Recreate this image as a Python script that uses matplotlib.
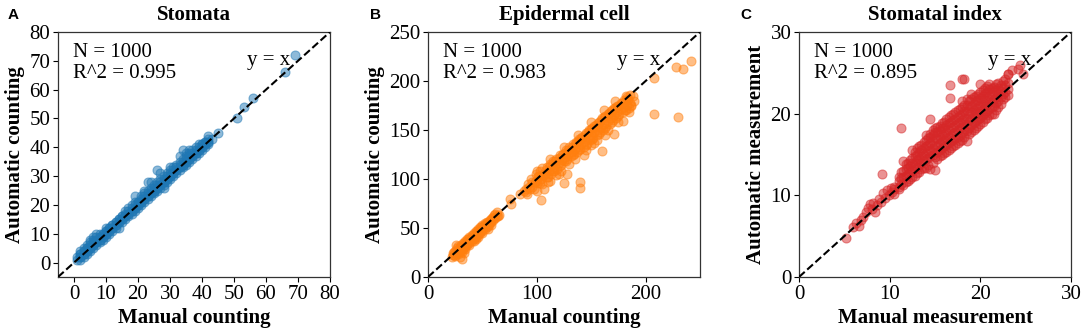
import matplotlib
matplotlib.use("Agg")
import matplotlib.pyplot as plt

plt.rcParams['font.family'] = ['Liberation Serif', 'DejaVu Serif']

# ---------------- Data ----------------
titles = ["Stomata", "Epidermal cell", "Stomatal index"]
xlabels = ["Manual counting", "Manual counting", "Manual measurement"]
ylabels = ["Automatic counting", "Automatic counting", "Automatic measurement"]
panel_letters = ["A", "B", "C"]
n_texts = ["N = 1000", "N = 1000", "N = 1000"]
r2_texts = ["R^2 = 0.995", "R^2 = 0.983", "R^2 = 0.895"]
limits = [(-5, 80), (0, 250), (0, 30)]
yticks_list = [[0, 10, 20, 30, 40, 50, 60, 70, 80], [0, 50, 100, 150, 200, 250], [0, 10, 20, 30]]
xticks_list = [[0, 10, 20, 30, 40, 50, 60, 70, 80], [0, 100, 200], [0, 10, 20, 30]]
colors = ["#1f77b4", "#ff7f0e", "#d62728"]

# Panel A: stomata (manual, automatic)
stomata_manual = [
    1, 1, 2, 2, 2, 2, 3, 3, 3, 3, 4, 4, 4, 4, 5, 5, 5, 5, 6, 6, 6, 6, 7, 7, 7, 7,
    8, 8, 8, 8, 9, 9, 9, 10, 10, 10, 10, 11, 11, 11, 12, 12, 12, 13, 13, 13,
    14, 14, 14, 15, 15, 15, 16, 16, 16, 17, 17, 17, 18, 18, 18, 19, 19, 19, 19,
    20, 20, 20, 21, 21, 21, 22, 22, 22, 22, 23, 23, 23, 23, 24, 24, 24, 24,
    25, 25, 25, 26, 26, 26, 26, 27, 27, 27, 27, 28, 28, 28, 28, 29, 29, 29,
    30, 30, 30, 30, 31, 31, 31, 32, 32, 32, 33, 33, 33, 33, 34, 34, 34, 34,
    35, 35, 35, 35, 36, 36, 36, 36, 37, 37, 37, 38, 38, 38, 39, 39, 39,
    40, 40, 40, 41, 41, 41, 42, 42, 42, 43, 45, 51, 53, 56, 66, 69,
    2, 2, 3, 3, 4, 4, 5, 5, 6, 6, 7, 7, 8, 8, 9, 9, 10, 10, 11, 11, 12, 12,
    13, 13, 14, 14, 15, 15, 16, 16, 17, 17, 18, 18, 19, 19, 20, 20, 21, 21,
    22, 22, 23, 23, 24, 24, 25, 25, 26, 26, 27, 27, 28, 28, 29, 29, 30, 30,
    31, 31, 32, 32, 33, 33, 34, 34, 35, 35, 36, 36, 37, 37, 38, 38, 39, 39,
    40, 40, 41, 41, 42, 42]
stomata_auto = [
    1, 2, 1, 2, 3, 4, 2, 3, 4, 5, 3, 4, 5, 6, 4, 5, 7, 8, 5, 6, 8, 9, 6, 7, 9, 10,
    7, 8, 10, 9, 8, 9, 10, 9, 10, 11, 12, 10, 11, 12, 11, 12, 13, 12, 13, 14,
    12, 14, 15, 14, 15, 16, 15, 16, 18, 16, 17, 19, 17, 18, 20, 18, 19, 23, 21,
    19, 20, 21, 20, 21, 23, 21, 22, 24, 25, 22, 23, 25, 28, 23, 24, 26, 28,
    24, 25, 27, 25, 26, 28, 32, 26, 27, 29, 31, 27, 28, 30, 26, 28, 29, 31,
    29, 30, 32, 33, 30, 31, 33, 31, 32, 34, 32, 33, 35, 37, 33, 34, 36, 39,
    34, 35, 37, 38, 35, 36, 38, 39, 36, 37, 39, 37, 38, 40, 38, 39, 41,
    39, 40, 41, 40, 41, 42, 41, 42, 44, 43, 45, 50, 54, 57, 66, 72,
    2, 3, 3, 4, 4, 5, 5, 6, 6, 7, 7, 8, 8, 9, 9, 10, 10, 11, 11, 12, 12, 13,
    13, 14, 14, 15, 15, 16, 16, 17, 17, 18, 18, 19, 19, 20, 20, 21, 21, 22,
    22, 23, 23, 24, 24, 25, 25, 26, 26, 27, 27, 28, 28, 29, 29, 30, 30, 31,
    31, 32, 32, 33, 33, 34, 34, 35, 35, 36, 36, 37, 37, 38, 38, 39, 39, 40,
    40, 41, 41, 42, 42, 43]

# Panel B: epidermal cells (manual, automatic)
epidermal_manual = [
    22, 23, 24, 25, 25, 26, 27, 27, 28, 28, 29, 30, 30, 31, 31, 32, 32, 33, 34, 34,
    35, 36, 36, 37, 38, 38, 39, 40, 40, 41, 42, 42, 43, 44, 44, 45, 46, 46, 47, 48,
    48, 49, 50, 50, 51, 52, 52, 53, 54, 54, 55, 56, 57, 58, 59, 60, 61, 62, 63, 64,
    29, 33, 26, 44, 55, 75, 76,
    23, 24, 26, 27, 29, 30, 32, 33, 35, 36, 37, 39, 40, 41, 43, 44, 45, 47, 48, 49,
    51, 52, 53, 55, 56, 57, 58, 60, 61, 62, 31, 28, 34, 38, 42, 46, 50, 58, 63, 65,
    85, 88, 90, 92, 94, 95, 96, 98, 99, 100, 101, 102, 103, 104, 105, 105, 106, 107,
    108, 109, 110, 111, 112, 113, 114, 115, 116, 117, 118, 119, 120, 121, 122, 123,
    124, 125, 126, 127, 128, 129, 130, 131, 132, 133, 134, 135, 136, 137, 138, 139,
    140, 141, 142, 143, 144, 145, 146, 147, 148, 149, 150, 151, 152, 153, 154, 155,
    156, 157, 158, 159, 160, 161, 162, 163, 164, 165, 166, 167, 168, 169, 170, 171,
    172, 173, 174, 175, 176, 177, 178, 179, 180, 181, 182, 183, 184, 185, 186, 187,
    188, 189, 118, 122, 135, 145, 150, 155, 165, 112, 100,
    90, 93, 96, 99, 102, 105, 108, 111, 114, 117, 120, 123, 126, 129, 132, 135,
    138, 141, 144, 147, 150, 153, 156, 159, 162, 165, 168, 171, 174, 177, 180, 183, 186,
    91, 97, 103, 109, 115, 121, 127, 133, 139, 145, 151, 157, 163, 169, 175, 181, 187,
    110, 120, 130, 143, 153, 163, 175, 185, 100, 112, 125, 138, 150, 162, 172, 182,
    104, 140, 140, 125, 128, 160, 171, 179, 208, 208, 228, 234, 242, 230]
epidermal_auto = [
    20, 24, 22, 27, 21, 25, 30, 24, 26, 32, 28, 27, 33, 30, 18, 29, 35, 32, 31, 37,
    34, 33, 39, 36, 35, 41, 38, 37, 43, 40, 39, 45, 42, 41, 47, 44, 43, 49, 46, 45,
    51, 48, 47, 53, 50, 49, 55, 52, 51, 56, 54, 53, 58, 56, 60, 58, 63, 60, 66, 62,
    20, 25, 33, 39, 49, 80, 74,
    22, 26, 23, 28, 31, 29, 31, 35, 36, 35, 39, 40, 39, 43, 44, 43, 47, 48, 47, 51,
    52, 51, 54, 56, 55, 56, 59, 61, 60, 64, 26, 23, 29, 33, 37, 41, 45, 53, 62, 63,
    85, 88, 87, 95, 90, 100, 92, 97, 105, 96, 103, 98, 108, 100, 95, 111, 104, 90,
    106, 112, 102, 108, 115, 105, 110, 118, 108, 114, 120, 110, 116, 124, 114, 119,
    126, 118, 122, 130, 120, 126, 133, 123, 128, 136, 126, 131, 138, 128, 133, 141,
    131, 136, 143, 133, 139, 147, 136, 142, 150, 140, 145, 152, 142, 148, 155, 145,
    150, 158, 148, 153, 162, 150, 156, 164, 154, 159, 167, 156, 162, 170, 160, 165,
    172, 162, 168, 175, 166, 171, 178, 168, 173, 180, 170, 176, 182, 172, 178, 175,
    185, 180, 104, 108, 120, 130, 135, 140, 150, 98, 88,
    90, 92, 97, 98, 103, 104, 109, 112, 115, 118, 121, 124, 127, 130, 133, 136,
    139, 142, 145, 148, 151, 154, 157, 160, 163, 166, 169, 172, 175, 178, 181, 184, 186,
    85, 90, 96, 102, 108, 113, 118, 124, 130, 135, 141, 146, 152, 158, 164, 170, 176,
    97, 105, 115, 125, 137, 145, 158, 168, 108, 120, 133, 145, 158, 170, 180, 185,
    79, 91, 97, 96, 105, 129, 146, 159, 203, 166, 214, 212, 220, 163]

# Panel C: stomatal index (manual, automatic)
index_manual = [
    5.2, 6.0, 6.3, 6.6, 6.8, 7.1, 7.4, 7.6, 7.8, 8.0, 8.2, 8.4, 8.6, 8.8, 9.0, 9.1,
    9.3, 9.5, 9.7, 9.9, 10.1, 10.3, 10.5, 10.5, 10.5,
    11.0, 11.0, 11.0, 11.5, 11.5, 11.5, 11.5, 12.0, 12.0, 12.0, 12.0,
    12.5, 12.5, 12.5, 12.5, 12.5, 13.0, 13.0, 13.0, 13.0, 13.0,
    13.5, 13.5, 13.5, 13.5, 13.5, 14.0, 14.0, 14.0, 14.0, 14.0, 14.0,
    14.5, 14.5, 14.5, 14.5, 14.5, 14.5, 15.0, 15.0, 15.0, 15.0, 15.0, 15.0, 15.0,
    15.5, 15.5, 15.5, 15.5, 15.5, 15.5, 16.0, 16.0, 16.0, 16.0, 16.0, 16.0,
    16.5, 16.5, 16.5, 16.5, 16.5, 16.5, 17.0, 17.0, 17.0, 17.0, 17.0, 17.0,
    17.5, 17.5, 17.5, 17.5, 17.5, 17.5, 18.0, 18.0, 18.0, 18.0, 18.0, 18.0, 18.0,
    18.5, 18.5, 18.5, 18.5, 18.5, 18.5, 18.5, 19.0, 19.0, 19.0, 19.0, 19.0, 19.0, 19.0,
    19.5, 19.5, 19.5, 19.5, 19.5, 19.5, 20.0, 20.0, 20.0, 20.0, 20.0, 20.0, 20.0,
    20.5, 20.5, 20.5, 20.5, 20.5, 20.5, 21.0, 21.0, 21.0, 21.0, 21.0, 21.0,
    21.5, 21.5, 21.5, 21.5, 21.5, 22.0, 22.0, 22.0, 22.0, 22.0,
    22.5, 22.5, 22.5, 22.5, 23.0, 23.0, 23.0, 23.0,
    11.25, 11.25, 11.25, 11.75, 11.75, 11.75, 11.75, 12.25, 12.25, 12.25, 12.25,
    12.75, 12.75, 12.75, 12.75, 12.75, 13.25, 13.25, 13.25, 13.25, 13.25,
    13.75, 13.75, 13.75, 13.75, 13.75, 14.25, 14.25, 14.25, 14.25, 14.25,
    14.75, 14.75, 14.75, 14.75, 14.75, 14.75, 15.25, 15.25, 15.25, 15.25, 15.25, 15.25,
    15.75, 15.75, 15.75, 15.75, 15.75, 15.75, 16.25, 16.25, 16.25, 16.25, 16.25, 16.25,
    16.75, 16.75, 16.75, 16.75, 16.75, 16.75, 17.25, 17.25, 17.25, 17.25, 17.25, 17.25,
    17.75, 17.75, 17.75, 17.75, 17.75, 17.75, 18.25, 18.25, 18.25, 18.25, 18.25, 18.25,
    18.75, 18.75, 18.75, 18.75, 18.75, 18.75, 19.25, 19.25, 19.25, 19.25, 19.25, 19.25,
    19.75, 19.75, 19.75, 19.75, 19.75, 19.75, 20.25, 20.25, 20.25, 20.25, 20.25, 20.25,
    20.75, 20.75, 20.75, 20.75, 20.75, 20.75, 21.25, 21.25, 21.25, 21.25, 21.25,
    21.75, 21.75, 21.75, 21.75, 21.75, 22.25, 22.25, 22.25, 22.25,
    22.75, 22.75, 22.75, 22.75,
    11.0, 11.2, 14.4, 16.6, 16.7, 18.0, 18.2, 23.1, 23.5, 24.1, 24.4, 24.7]
index_auto = [
    4.8, 6.1, 6.6, 6.3, 7.0, 7.4, 8.0, 8.4, 9.0, 8.3, 9.1, 8.0, 8.8, 9.6, 9.2, 12.6,
    10.3, 9.7, 10.6, 10.1, 10.9, 10.4, 10.2, 11.0, 10.8,
    11.0, 11.8, 12.3, 11.3, 12.2, 13.0, 14.2, 11.8, 12.6, 13.4, 14.0,
    12.2, 13.0, 13.9, 14.6, 15.6, 12.7, 13.5, 14.3, 15.0, 15.8,
    13.2, 14.0, 14.8, 15.5, 16.2, 13.4, 14.4, 15.2, 16.0, 16.8, 17.4,
    13.2, 14.8, 15.6, 16.4, 17.1, 17.5, 13.1, 14.7, 15.5, 16.2, 17.0, 17.8, 18.3,
    14.8, 15.6, 16.4, 17.1, 17.9, 18.5, 15.2, 16.0, 16.8, 17.5, 18.3, 19.0,
    15.6, 16.4, 17.2, 18.0, 18.8, 19.6, 16.0, 16.8, 17.6, 18.4, 19.2, 20.0,
    16.4, 17.2, 18.0, 18.8, 19.6, 20.4, 16.8, 17.6, 18.4, 19.2, 20.0, 20.8, 21.5,
    16.6, 17.9, 18.7, 19.5, 20.3, 21.1, 21.8, 17.8, 18.6, 19.4, 20.2, 21.0, 21.8, 22.4,
    18.3, 19.1, 19.9, 20.7, 21.5, 22.2, 18.7, 19.5, 20.3, 21.1, 21.9, 22.6, 23.6,
    19.3, 20.1, 20.9, 21.7, 22.5, 23.2, 19.8, 20.6, 21.4, 22.2, 23.0, 23.6,
    20.0, 21.0, 21.8, 22.6, 23.3, 20.8, 21.6, 22.4, 23.1, 23.8,
    21.8, 22.4, 23.2, 24.0, 22.3, 23.0, 23.8, 24.8,
    11.4, 12.1, 12.8, 11.6, 12.4, 13.2, 13.8, 12.0, 12.8, 13.6, 14.3,
    12.4, 13.2, 14.0, 14.8, 15.3, 12.9, 13.7, 14.5, 15.3, 16.0,
    13.3, 14.2, 15.0, 15.8, 16.5, 13.7, 14.6, 15.4, 16.2, 17.0,
    14.0, 15.0, 15.8, 16.6, 17.4, 18.0, 14.4, 15.3, 16.1, 16.9, 17.7, 18.4,
    14.9, 15.8, 16.6, 17.4, 18.2, 18.9, 15.3, 16.2, 17.0, 17.8, 18.6, 19.4,
    15.8, 16.6, 17.4, 18.2, 19.0, 19.8, 16.2, 17.0, 17.8, 18.6, 19.4, 20.2,
    16.6, 17.4, 18.2, 19.0, 19.8, 20.6, 17.1, 17.9, 18.7, 19.5, 20.3, 21.1,
    17.5, 18.3, 19.1, 19.9, 20.7, 21.5, 18.0, 18.8, 19.6, 20.4, 21.2, 22.0,
    18.5, 19.3, 20.1, 20.9, 21.7, 22.4, 19.0, 19.8, 20.6, 21.4, 22.2, 22.9,
    19.5, 20.3, 21.1, 21.9, 22.7, 23.4, 20.0, 20.8, 21.6, 22.4, 23.2,
    20.5, 21.3, 22.1, 22.9, 23.6, 21.2, 22.0, 22.8, 23.5,
    22.0, 22.7, 23.5, 24.3,
    10.8, 18.3, 19.4, 23.5, 21.9, 24.3, 24.3, 24.8, 25.3, 25.5, 26.0, 24.9]

manual_data = [stomata_manual, epidermal_manual, index_manual]
auto_data = [stomata_auto, epidermal_auto, index_auto]

# ---------------- Figure ----------------
fig = plt.figure(figsize=(10.84, 3.34), dpi=100)
W, H = 1084, 334
axes_px = [(58, 32, 272, 245), (428, 32, 272, 245), (799, 32, 272, 245)]
letter_x = [8, 370, 740]

for i in range(3):
    l, t, w, h = axes_px[i]
    ax = fig.add_axes([l / W, 1 - (t + h) / H, w / W, h / H])
    lo, hi = limits[i]
    ax.scatter(manual_data[i], auto_data[i], s=42, color=colors[i], alpha=0.5,
               edgecolors=colors[i], linewidths=0.8, zorder=2)
    ax.plot([lo, hi], [lo, hi], 'k--', lw=1.5, zorder=3)
    ax.set_xlim(lo, hi)
    ax.set_ylim(lo, hi)
    ax.set_xticks(xticks_list[i])
    ax.set_yticks(yticks_list[i])
    ax.tick_params(labelsize=15, length=3.5, width=0.8, pad=2)
    for sp in ax.spines.values():
        sp.set_linewidth(0.9)
        sp.set_color('#333333')
    ax.set_title(titles[i], fontsize=15, fontweight='bold', pad=9)
    ax.set_xlabel(xlabels[i], fontsize=15, fontweight='bold', labelpad=3)
    ax.set_ylabel(ylabels[i], fontsize=15, fontweight='bold', labelpad=3)
    ax.text(0.055, 0.955, n_texts[i] + "\n" + r2_texts[i], transform=ax.transAxes,
            ha='left', va='top', fontsize=15, linespacing=1.15)
    ax.text(0.855, 0.885, "y = x", transform=ax.transAxes, ha='right', va='center',
            fontsize=15)
    fig.text(letter_x[i] / W, 1 - 15 / H, panel_letters[i], ha='left', va='center',
             fontsize=11, fontweight='bold', family=['Liberation Sans', 'DejaVu Sans'])

fig.savefig("out.png", dpi=100)
